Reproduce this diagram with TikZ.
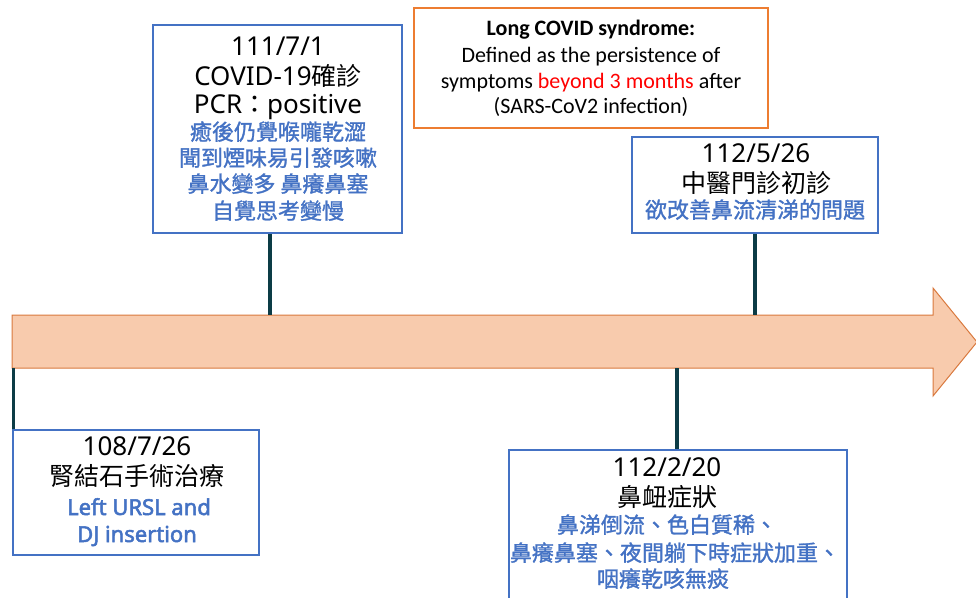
\documentclass[tikz,border=0pt]{standalone}
\usepackage{fontspec}
\setmainfont{Noto Sans}
\newfontfamily\cjk{Noto Sans CJK TC}
\newfontfamily\cjkb{Noto Sans CJK TC}[FakeBold=1.3]
\newfontfamily\latb{Noto Sans}[FakeBold=2.4]
\newfontfamily\cali{Carlito}
% Chinese in the black lines, slightly smaller than the Latin digits
\newcommand\zh[1]{{\cjk\fontsize{25}{25}\selectfont #1}}

\definecolor{boxblue}{HTML}{4472C4}
\definecolor{txtblue}{HTML}{4472C4}
\definecolor{boxorange}{HTML}{ED7D31}
\definecolor{arrowfill}{HTML}{F8CBAD}
\definecolor{arrowline}{HTML}{D9793E}
\definecolor{stemcol}{HTML}{0C3C46}

\tikzset{
  evbox/.style={draw=boxblue, line width=2.5pt, fill=white, inner sep=0pt},
  notebox/.style={draw=boxorange, line width=2.5pt, fill=white, inner sep=0pt},
  blk/.style={anchor=base, inner sep=0pt, text height=19pt, text depth=5pt,
    font=\fontsize{26}{26}\selectfont},
  blu/.style={anchor=base, inner sep=0pt, text height=18pt, text depth=4pt,
    text=txtblue, font=\fontsize{22}{22}\selectfont},
  note/.style={anchor=base, inner sep=0pt, text height=15pt, text depth=5pt,
    font=\cali\fontsize{22}{22}\selectfont},
  stem/.style={draw=stemcol, line width=3.5pt},
  tline/.style={fill=arrowfill, draw=arrowline, line width=1pt},
}

\begin{document}
\begin{tikzpicture}[x=1pt, y=-1pt]
\clip (0,0) rectangle (976,597);

% timeline arrow
\draw[tline] (12,315) -- (933,315) -- (933,288) -- (977,342) -- (933,396)
  -- (933,368) -- (12,368) -- cycle;
\coordinate (atop) at (0,315);
\coordinate (abot) at (0,368);

% stem positions along the timeline
\coordinate (s1) at (270,0);
\coordinate (s2) at (755,0);
\coordinate (s3) at (13.5,0);
\coordinate (s4) at (677,0);

% event boxes
\node[evbox, minimum width=249pt, minimum height=208pt] (b1) at (277.5,129) {};
\node[evbox, minimum width=246pt, minimum height=96pt] (b2) at (755,185) {};
\node[evbox, minimum width=246pt, minimum height=125pt] (b3) at (136,492.5) {};
\node[evbox, minimum width=338pt, minimum height=180pt] (b4) at (678,540) {};
\node[notebox, minimum width=354pt, minimum height=120pt] (nb) at (591,68) {};

% connectors from boxes to the timeline
\draw[stem] (s1 |- b1.south) -- (s1 |- atop);
\draw[stem] (s2 |- b2.south) -- (s2 |- atop);
\draw[stem] (s3 |- abot) -- (s3 |- b3.north);
\draw[stem] (s4 |- abot) -- (s4 |- b4.north);

% redraw boxes over the stem ends
\node[evbox, minimum width=249pt, minimum height=208pt] at (b1) {};
\node[evbox, minimum width=246pt, minimum height=96pt] at (b2) {};
\node[evbox, minimum width=246pt, minimum height=125pt] at (b3) {};
\node[evbox, minimum width=338pt, minimum height=180pt] at (b4) {};

% 111/7/1
\node[blk] (b1t1) at (278,55) {111/7/1};
\node[blk] (b1t2) at (278,85) {COVID-19\zh{確診}};
\node[blk] (b1t3) at (278,113) {PCR\zh{：}positive};
\node[blu] (b1t4) at (278,140) {\cjkb 癒後仍覺喉嚨乾澀};
\node[blu] (b1t5) at (278,166) {\cjkb 聞到煙味易引發咳嗽};
\node[blu] (b1t6) at (278,192) {\cjkb 鼻水變多 鼻癢鼻塞};
\node[blu] (b1t7) at (278,219) {\cjkb 自覺思考變慢};

% 112/5/26
\node[blk] (b2t1) at (756,162) {112/5/26};
\node[blk] (b2t2) at (756,192) {\zh{中醫門診初診}};
\node[blu] (b2t3) at (755,218) {\cjkb 欲改善鼻流清涕的問題};

% 108/7/26
\node[blk] (b3t1) at (137,455) {108/7/26};
\node[blk] (b3t2) at (137,485) {\zh{腎結石手術治療}};
\node[blu] (b3t3) at (139,515) {\latb Left URSL and};
\node[blu] (b3t4) at (137,542) {\latb DJ insertion};

% 112/2/20
\node[blk] (b4t1) at (667,476) {112/2/20};
\node[blk] (b4t2) at (667,506) {\zh{鼻衄症狀}};
\node[blu] (b4t3) at (667,533) {\cjkb 鼻涕倒流、色白質稀、};
\node[blu] (b4t4) at (675,561) {\cjkb 鼻癢鼻塞、夜間躺下時症狀加重、};
\node[blu] (b4t5) at (663,587) {\cjkb 咽癢乾咳無痰};

% Long COVID note
\node[note, font=\cali\fontsize{22}{22}\selectfont\bfseries] (n1) at (591,35) {Long COVID syndrome:};
\node[note] (n2) at (591,62) {Defined as the persistence of};
\node[note] (n3) at (591,88) {symptoms \textcolor{red}{beyond 3 months} after};
\node[note] (n4) at (591,113) {(SARS-CoV2 infection)};
\end{tikzpicture}
\end{document}
